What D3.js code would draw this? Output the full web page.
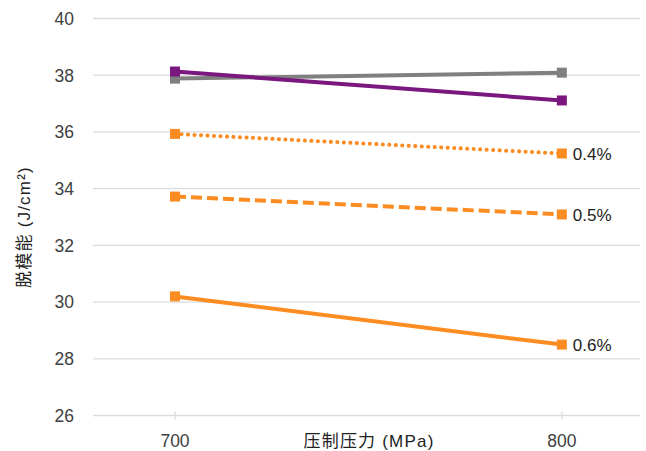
<!DOCTYPE html>
<html><head><meta charset="utf-8">
<script src="https://cdn.jsdelivr.net/npm/d3@7"></script>
<style>body{margin:0;background:#fff}</style>
</head><body>
<svg id="c" width="646" height="451"></svg>
<script>
const pressures = [700, 800];
const yTicks = [26, 28, 30, 32, 34, 36, 38, 40];
const seriesNames = ["0.6%", "0.5%", "0.4%", "gray", "purple"];
const s06 = [30.2, 28.5];
const s05 = [33.72, 33.09];
const s04 = [35.93, 35.24];
const sGray = [37.88, 38.09];
const sPurple = [38.13, 37.11];
const xTitle = "压制压力 (MPa)";
const yTitle = "脱模能  (J/cm²)";

const styles = {
  "0.6%": {color:"#FB8C22", dash:null, label:"0.6%"},
  "0.5%": {color:"#FB8C22", dash:"11,5", label:"0.5%"},
  "0.4%": {color:"#FB8C22", dash:"0.1,6.4", cap:"round", label:"0.4%"},
  "gray": {color:"#808080", dash:null, label:null},
  "purple": {color:"#7A187F", dash:null, label:null}
};
const values = {"0.6%":s06,"0.5%":s05,"0.4%":s04,"gray":sGray,"purple":sPurple};

const svg = d3.select("#c");
const font = "'Liberation Sans','Noto Sans CJK SC',Arial,sans-serif";
const x = d3.scaleLinear().domain([678.8, 820.2]).range([93, 640]);
const y = d3.scaleLinear().domain([26, 40]).range([415.5, 18.5]);

// grid
svg.append("g").selectAll("line").data(yTicks).join("line")
  .attr("x1", 93).attr("x2", 640)
  .attr("y1", d => y(d)).attr("y2", d => y(d))
  .attr("stroke", "#dcdcdc").attr("stroke-width", 1.3);
// x ticks
svg.append("g").selectAll("line").data(pressures).join("line")
  .attr("x1", d => x(d)).attr("x2", d => x(d))
  .attr("y1", y(26) - 4).attr("y2", y(26) + 4)
  .attr("stroke", "#dcdcdc").attr("stroke-width", 1.3);

// y labels
svg.append("g").selectAll("text").data(yTicks).join("text")
  .attr("x", 74).attr("y", d => y(d)).attr("dy", "0.36em")
  .attr("text-anchor", "end").attr("font-family", font)
  .attr("font-size", 17.5).attr("fill", "#404040").text(d => d);
// x labels
svg.append("g").selectAll("text").data(pressures).join("text")
  .attr("x", d => x(d)).attr("y", 446.5)
  .attr("text-anchor", "middle").attr("font-family", font)
  .attr("font-size", 17.5).attr("fill", "#404040").text(d => d);
svg.append("text").attr("x", 369).attr("y", 446.5).attr("text-anchor", "middle")
  .attr("font-family", font).attr("font-size", 17).attr("letter-spacing", 1.2)
  .attr("fill", "#222").text(xTitle);
svg.append("text").attr("transform", "translate(30,227) rotate(-90)")
  .attr("text-anchor", "middle").attr("font-family", font)
  .attr("font-size", 17).attr("letter-spacing", 1.2)
  .attr("fill", "#222").text(yTitle);

const line = d3.line().x((d, i) => x(pressures[i])).y(d => y(d));
seriesNames.forEach(name => {
  const st = styles[name], v = values[name];
  const g = svg.append("g");
  g.append("path").attr("d", line(v)).attr("fill", "none")
    .attr("stroke", st.color).attr("stroke-width", 4)
    .attr("stroke-dasharray", st.dash)
    .attr("stroke-linecap", st.cap || "butt");
  g.selectAll("rect").data(v).join("rect")
    .attr("x", (d, i) => x(pressures[i]) - 5).attr("y", d => y(d) - 5)
    .attr("width", 10).attr("height", 10).attr("fill", st.color);
  if (st.label) {
    g.append("text").attr("x", x(pressures[1]) + 11).attr("y", y(v[1]))
      .attr("dy", "0.36em").attr("font-family", font).attr("font-size", 17)
      .attr("fill", "#222").text(st.label);
  }
});
</script>
</body></html>
